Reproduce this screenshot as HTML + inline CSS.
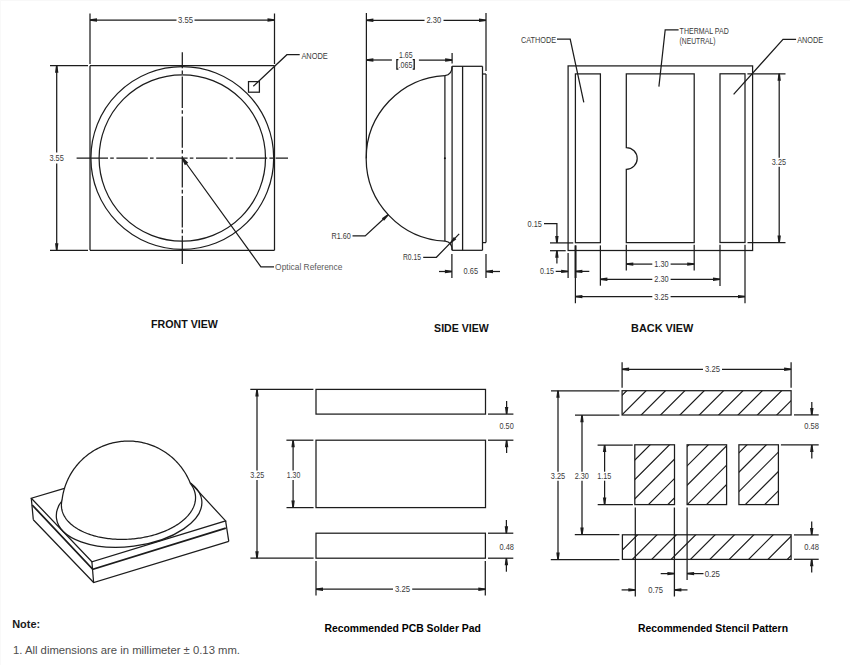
<!DOCTYPE html>
<html><head><meta charset="utf-8"><style>
html,body{margin:0;padding:0;background:#fff;width:850px;height:665px;overflow:hidden}
svg{display:block;font-family:"Liberation Sans",sans-serif}
</style></head><body>
<svg width="850" height="665" viewBox="0 0 850 665">
<rect x="0" y="0" width="850" height="665" fill="#fff"/>
<rect x="0" y="0" width="850" height="1" fill="#f8f8f8"/><rect x="0" y="0" width="1" height="665" fill="#f9f9f9"/>
<line x1="90" y1="65.7" x2="274.5" y2="65.7" stroke="#1c1c1c" stroke-width="1.25"/>
<line x1="90" y1="250.3" x2="274.5" y2="250.3" stroke="#1c1c1c" stroke-width="1.25"/>
<line x1="90" y1="65.7" x2="90" y2="250.3" stroke="#1c1c1c" stroke-width="1.25"/>
<line x1="274.5" y1="65.7" x2="274.5" y2="250.3" stroke="#1c1c1c" stroke-width="1.25"/>
<line x1="90" y1="13.5" x2="90" y2="64" stroke="#1c1c1c" stroke-width="1.25"/>
<line x1="274.5" y1="13.5" x2="274.5" y2="64" stroke="#1c1c1c" stroke-width="1.25"/>
<line x1="90" y1="20" x2="176.5" y2="20" stroke="#1c1c1c" stroke-width="1.25"/>
<line x1="194.5" y1="20" x2="274.5" y2="20" stroke="#1c1c1c" stroke-width="1.25"/>
<path d="M90,19.25 L97,18.3 L97,21.7 L90,20.75 Z" fill="#1c1c1c" stroke="none"/>
<path d="M274.5,20.75 L267.5,21.7 L267.5,18.3 L274.5,19.25 Z" fill="#1c1c1c" stroke="none"/>
<text x="178" y="22.95" font-family="Liberation Sans" font-size="8.2" font-weight="normal" fill="#3a3a3a" textLength="15" lengthAdjust="spacingAndGlyphs">3.55</text>
<line x1="50" y1="65.7" x2="88" y2="65.7" stroke="#1c1c1c" stroke-width="1.25"/>
<line x1="50" y1="250.3" x2="88" y2="250.3" stroke="#1c1c1c" stroke-width="1.25"/>
<line x1="56.7" y1="65.7" x2="56.7" y2="152.5" stroke="#1c1c1c" stroke-width="1.25"/>
<line x1="56.7" y1="163.5" x2="56.7" y2="250.3" stroke="#1c1c1c" stroke-width="1.25"/>
<path d="M57.45,65.7 L58.4,72.7 L55,72.7 L55.95,65.7 Z" fill="#1c1c1c" stroke="none"/>
<path d="M55.95,250.3 L55,243.3 L58.4,243.3 L57.45,250.3 Z" fill="#1c1c1c" stroke="none"/>
<text x="49.4" y="161.25" font-family="Liberation Sans" font-size="8.2" font-weight="normal" fill="#3a3a3a" textLength="14.4" lengthAdjust="spacingAndGlyphs">3.55</text>
<circle cx="182.3" cy="158" r="91.4" fill="none" stroke="#1c1c1c" stroke-width="1.25"/>
<circle cx="182.3" cy="158" r="83.2" fill="none" stroke="#1c1c1c" stroke-width="1.25"/>
<line x1="76.6" y1="158.2" x2="288" y2="158.2" stroke="#1c1c1c" stroke-width="1.25" stroke-dasharray="31.4 2.2 3.6 2.6"/>
<line x1="182.3" y1="52.3" x2="182.3" y2="264" stroke="#1c1c1c" stroke-width="1.25" stroke-dasharray="31.4 2.2 3.6 2.6" stroke-dashoffset="15.5"/>
<rect x="248.5" y="81.6" width="10.9" height="10.6" fill="none" stroke="#1c1c1c" stroke-width="1.25"/>
<path d="M253.3,86.3 L286.9,54.7 L299.7,54.7" fill="none" stroke="#1c1c1c" stroke-width="1.25" stroke-linejoin="miter"/>
<text x="301.4" y="59.3" font-family="Liberation Sans" font-size="8.6" font-weight="normal" fill="#3a3a3a" textLength="26.4" lengthAdjust="spacingAndGlyphs">ANODE</text>
<path d="M182.3,158 L260.9,266.8 L274,266.8" fill="none" stroke="#1c1c1c" stroke-width="1.25" stroke-linejoin="miter"/>
<path d="M182.95,157.53 L188.28,162.68 L184.88,165.14 L181.65,158.47 Z" fill="#1c1c1c" stroke="none"/>
<text x="275.1" y="270.2" font-family="Liberation Sans" font-size="9.3" font-weight="normal" fill="#5a5a5a" textLength="67.3" lengthAdjust="spacingAndGlyphs">Optical Reference</text>
<text x="151.1" y="328" font-family="Liberation Sans" font-size="11.3" font-weight="bold" fill="#111" textLength="66.7" lengthAdjust="spacingAndGlyphs">FRONT VIEW</text>
<line x1="366.4" y1="13" x2="366.4" y2="158.4" stroke="#1c1c1c" stroke-width="1.25"/>
<line x1="486" y1="13" x2="486" y2="71" stroke="#1c1c1c" stroke-width="1.25"/>
<line x1="366.4" y1="20.3" x2="424.5" y2="20.3" stroke="#1c1c1c" stroke-width="1.25"/>
<line x1="443.5" y1="20.3" x2="486" y2="20.3" stroke="#1c1c1c" stroke-width="1.25"/>
<path d="M366.4,19.55 L373.4,18.6 L373.4,22 L366.4,21.05 Z" fill="#1c1c1c" stroke="none"/>
<path d="M486,21.05 L479,22 L479,18.6 L486,19.55 Z" fill="#1c1c1c" stroke="none"/>
<text x="426.4" y="23.25" font-family="Liberation Sans" font-size="8.2" font-weight="normal" fill="#3a3a3a" textLength="14.8" lengthAdjust="spacingAndGlyphs">2.30</text>
<line x1="366.4" y1="60" x2="391.9" y2="60" stroke="#1c1c1c" stroke-width="1.25"/>
<line x1="418.9" y1="60" x2="452.1" y2="60" stroke="#1c1c1c" stroke-width="1.25"/>
<path d="M366.4,59.25 L373.4,58.3 L373.4,61.7 L366.4,60.75 Z" fill="#1c1c1c" stroke="none"/>
<path d="M452.1,60.75 L445.1,61.7 L445.1,58.3 L452.1,59.25 Z" fill="#1c1c1c" stroke="none"/>
<line x1="452.1" y1="53" x2="452.1" y2="63.6" stroke="#1c1c1c" stroke-width="1.25"/>
<text x="399" y="57.8" font-family="Liberation Sans" font-size="8.3" font-weight="normal" fill="#3a3a3a" textLength="13.6" lengthAdjust="spacingAndGlyphs">1.65</text>
<text x="398.6" y="67.6" font-family="Liberation Sans" font-size="8.3" font-weight="normal" fill="#3a3a3a" textLength="13.8" lengthAdjust="spacingAndGlyphs">.065</text>
<path d="M398.4,59.6 H396.9 V69.1 H398.4" fill="none" stroke="#111" stroke-width="1.3" />
<path d="M412.7,59.6 H414.2 V69.1 H412.7" fill="none" stroke="#111" stroke-width="1.3" />
<path d="M444.9,75.6 A82.9,82.9 0 0 0 445.1,241.2" fill="none" stroke="#1c1c1c" stroke-width="1.25" />
<path d="M444.9,75.6 C449.2,75.2 452.1,72 452.1,66.3" fill="none" stroke="#1c1c1c" stroke-width="1.25" />
<path d="M445.1,241.2 C449.2,241.6 452.1,244.6 452.1,250.3" fill="none" stroke="#1c1c1c" stroke-width="1.25" />
<line x1="444.9" y1="75.6" x2="444.9" y2="241.2" stroke="#1c1c1c" stroke-width="1.25"/>
<circle cx="444.9" cy="158.3" r="1" fill="#111"/>
<line x1="452.1" y1="66.3" x2="452.1" y2="250.3" stroke="#1c1c1c" stroke-width="1.25"/>
<line x1="462.6" y1="66.3" x2="462.6" y2="250.3" stroke="#1c1c1c" stroke-width="1.3"/>
<line x1="482.5" y1="66.3" x2="482.5" y2="250.3" stroke="#1c1c1c" stroke-width="1.25"/>
<line x1="452.1" y1="66.3" x2="482.5" y2="66.3" stroke="#1c1c1c" stroke-width="1.25"/>
<line x1="452.1" y1="250.3" x2="482.5" y2="250.3" stroke="#1c1c1c" stroke-width="1.25"/>
<line x1="482.5" y1="74" x2="486" y2="74" stroke="#1c1c1c" stroke-width="1.25"/>
<line x1="482.5" y1="242.6" x2="486" y2="242.6" stroke="#1c1c1c" stroke-width="1.25"/>
<line x1="486" y1="74" x2="486" y2="242.6" stroke="#1c1c1c" stroke-width="1.25"/>
<path d="M352.5,235.9 L365.2,235.9 L388.1,214.7" fill="none" stroke="#1c1c1c" stroke-width="1.25" stroke-linejoin="miter"/>
<path d="M388.61,215.25 L384.05,220.63 L381.88,218.28 L387.59,214.15 Z" fill="#1c1c1c" stroke="none"/>
<text x="331.5" y="238.9" font-family="Liberation Sans" font-size="8.2" font-weight="normal" fill="#3a3a3a" textLength="19.3" lengthAdjust="spacingAndGlyphs">R1.60</text>
<path d="M423.2,257.3 L436.4,257.3 L459.2,233.9" fill="none" stroke="#1c1c1c" stroke-width="1.25" stroke-linejoin="miter"/>
<path d="M450.17,242.38 L453.89,236.94 L456.34,239.31 L451.03,243.22 Z" fill="#1c1c1c" stroke="none"/>
<text x="403" y="260.3" font-family="Liberation Sans" font-size="8.2" font-weight="normal" fill="#3a3a3a" textLength="18" lengthAdjust="spacingAndGlyphs">R0.15</text>
<line x1="451.9" y1="254" x2="451.9" y2="278" stroke="#1c1c1c" stroke-width="1.25"/>
<line x1="486" y1="254" x2="486" y2="278" stroke="#1c1c1c" stroke-width="1.25"/>
<line x1="439" y1="271.5" x2="451.9" y2="271.5" stroke="#1c1c1c" stroke-width="1.25"/>
<line x1="486" y1="271.5" x2="500" y2="271.5" stroke="#1c1c1c" stroke-width="1.25"/>
<path d="M451.9,272.25 L444.9,273.2 L444.9,269.8 L451.9,270.75 Z" fill="#1c1c1c" stroke="none"/>
<path d="M486,270.75 L493,269.8 L493,273.2 L486,272.25 Z" fill="#1c1c1c" stroke="none"/>
<text x="463.6" y="274.45" font-family="Liberation Sans" font-size="8.2" font-weight="normal" fill="#3a3a3a" textLength="14.4" lengthAdjust="spacingAndGlyphs">0.65</text>
<text x="434.1" y="331.8" font-family="Liberation Sans" font-size="11.3" font-weight="bold" fill="#111" textLength="54.6" lengthAdjust="spacingAndGlyphs">SIDE VIEW</text>
<rect x="568.1" y="65.9" width="184.5" height="184.6" fill="none" stroke="#1c1c1c" stroke-width="1.25"/>
<rect x="575.4" y="73.9" width="25" height="168.8" fill="none" stroke="#1c1c1c" stroke-width="1.25"/>
<path d="M626.3,73.8 L694.2,73.8 L694.2,242.5 L626.3,242.5 L626.3,169.3 A10.9,10.9 0 0 0 626.3,147.5 Z" fill="none" stroke="#1c1c1c" stroke-width="1.25" />
<rect x="720" y="73.8" width="25" height="168.7" fill="none" stroke="#1c1c1c" stroke-width="1.25"/>
<path d="M557,39.2 L570.2,39.2 L583.8,102.3" fill="none" stroke="#1c1c1c" stroke-width="1.25" stroke-linejoin="miter"/>
<text x="520.9" y="43.2" font-family="Liberation Sans" font-size="8.6" font-weight="normal" fill="#3a3a3a" textLength="35.2" lengthAdjust="spacingAndGlyphs">CATHODE</text>
<path d="M678.6,29.8 L665.2,29.8 L658.9,86.6" fill="none" stroke="#1c1c1c" stroke-width="1.25" stroke-linejoin="miter"/>
<text x="679.6" y="34.1" font-family="Liberation Sans" font-size="8.6" font-weight="normal" fill="#3a3a3a" textLength="49.2" lengthAdjust="spacingAndGlyphs">THERMAL PAD</text>
<text x="679.6" y="43.5" font-family="Liberation Sans" font-size="8.6" font-weight="normal" fill="#3a3a3a" textLength="36" lengthAdjust="spacingAndGlyphs">(NEUTRAL)</text>
<path d="M796.1,39.4 L783,39.4 L733.6,94.4" fill="none" stroke="#1c1c1c" stroke-width="1.25" stroke-linejoin="miter"/>
<text x="797.2" y="42.8" font-family="Liberation Sans" font-size="8.6" font-weight="normal" fill="#3a3a3a" textLength="26" lengthAdjust="spacingAndGlyphs">ANODE</text>
<line x1="747.4" y1="73.8" x2="785.5" y2="73.8" stroke="#1c1c1c" stroke-width="1.25"/>
<line x1="747.5" y1="242.5" x2="785.5" y2="242.5" stroke="#1c1c1c" stroke-width="1.25"/>
<line x1="779.2" y1="73.8" x2="779.2" y2="157.7" stroke="#1c1c1c" stroke-width="1.25"/>
<line x1="779.2" y1="166.7" x2="779.2" y2="242.5" stroke="#1c1c1c" stroke-width="1.25"/>
<path d="M779.95,73.8 L780.9,80.8 L777.5,80.8 L778.45,73.8 Z" fill="#1c1c1c" stroke="none"/>
<path d="M778.45,242.5 L777.5,235.5 L780.9,235.5 L779.95,242.5 Z" fill="#1c1c1c" stroke="none"/>
<text x="771.8" y="165.05" font-family="Liberation Sans" font-size="8.2" font-weight="normal" fill="#3a3a3a" textLength="14.2" lengthAdjust="spacingAndGlyphs">3.25</text>
<line x1="550" y1="242.9" x2="573.3" y2="242.9" stroke="#1c1c1c" stroke-width="1.25"/>
<line x1="550" y1="250.7" x2="565.7" y2="250.7" stroke="#1c1c1c" stroke-width="1.25"/>
<path d="M544,223.7 L556.9,223.7 L556.9,242.9" fill="none" stroke="#1c1c1c" stroke-width="1.25" stroke-linejoin="miter"/>
<path d="M556.15,242.9 L555.2,235.9 L558.6,235.9 L557.65,242.9 Z" fill="#1c1c1c" stroke="none"/>
<line x1="556.9" y1="250.7" x2="556.9" y2="263.6" stroke="#1c1c1c" stroke-width="1.25"/>
<path d="M557.65,250.7 L558.6,257.7 L555.2,257.7 L556.15,250.7 Z" fill="#1c1c1c" stroke="none"/>
<text x="527.6" y="226.85" font-family="Liberation Sans" font-size="8.2" font-weight="normal" fill="#3a3a3a" textLength="14.3" lengthAdjust="spacingAndGlyphs">0.15</text>
<line x1="568.1" y1="252.9" x2="568.1" y2="277.9" stroke="#1c1c1c" stroke-width="1.25"/>
<line x1="575.4" y1="245.4" x2="575.4" y2="303.3" stroke="#1c1c1c" stroke-width="1.2"/>
<line x1="575.6" y1="245.4" x2="575.6" y2="278" stroke="#1c1c1c" stroke-width="1.9"/>
<line x1="555.7" y1="271.4" x2="568.1" y2="271.4" stroke="#1c1c1c" stroke-width="1.25"/>
<path d="M568.1,272.15 L561.1,273.1 L561.1,269.7 L568.1,270.65 Z" fill="#1c1c1c" stroke="none"/>
<line x1="575.4" y1="271.4" x2="589.3" y2="271.4" stroke="#1c1c1c" stroke-width="1.25"/>
<path d="M575.4,270.65 L582.4,269.7 L582.4,273.1 L575.4,272.15 Z" fill="#1c1c1c" stroke="none"/>
<text x="540" y="274.35" font-family="Liberation Sans" font-size="8.2" font-weight="normal" fill="#3a3a3a" textLength="13.9" lengthAdjust="spacingAndGlyphs">0.15</text>
<line x1="626.3" y1="244.7" x2="626.3" y2="270.4" stroke="#1c1c1c" stroke-width="1.25"/>
<line x1="694.2" y1="244.7" x2="694.2" y2="270.4" stroke="#1c1c1c" stroke-width="1.25"/>
<line x1="626.3" y1="264.1" x2="652.3" y2="264.1" stroke="#1c1c1c" stroke-width="1.25"/>
<line x1="670.6" y1="264.1" x2="694.2" y2="264.1" stroke="#1c1c1c" stroke-width="1.25"/>
<path d="M626.3,263.35 L633.3,262.4 L633.3,265.8 L626.3,264.85 Z" fill="#1c1c1c" stroke="none"/>
<path d="M694.2,264.85 L687.2,265.8 L687.2,262.4 L694.2,263.35 Z" fill="#1c1c1c" stroke="none"/>
<text x="654.3" y="267.05" font-family="Liberation Sans" font-size="8.2" font-weight="normal" fill="#3a3a3a" textLength="14.3" lengthAdjust="spacingAndGlyphs">1.30</text>
<line x1="600.4" y1="245.4" x2="600.4" y2="285.7" stroke="#1c1c1c" stroke-width="1.25"/>
<line x1="720" y1="244.7" x2="720" y2="286" stroke="#1c1c1c" stroke-width="1.25"/>
<line x1="600.4" y1="279.3" x2="652.3" y2="279.3" stroke="#1c1c1c" stroke-width="1.25"/>
<line x1="670.6" y1="279.3" x2="720" y2="279.3" stroke="#1c1c1c" stroke-width="1.25"/>
<path d="M600.4,278.55 L607.4,277.6 L607.4,281 L600.4,280.05 Z" fill="#1c1c1c" stroke="none"/>
<path d="M720,280.05 L713,281 L713,277.6 L720,278.55 Z" fill="#1c1c1c" stroke="none"/>
<text x="654.3" y="282.25" font-family="Liberation Sans" font-size="8.2" font-weight="normal" fill="#3a3a3a" textLength="14.3" lengthAdjust="spacingAndGlyphs">2.30</text>
<line x1="745" y1="244.7" x2="745" y2="303.3" stroke="#1c1c1c" stroke-width="1.25"/>
<line x1="575.4" y1="296.6" x2="652.3" y2="296.6" stroke="#1c1c1c" stroke-width="1.25"/>
<line x1="670.6" y1="296.6" x2="745" y2="296.6" stroke="#1c1c1c" stroke-width="1.25"/>
<path d="M575.4,295.85 L582.4,294.9 L582.4,298.3 L575.4,297.35 Z" fill="#1c1c1c" stroke="none"/>
<path d="M745,297.35 L738,298.3 L738,294.9 L745,295.85 Z" fill="#1c1c1c" stroke="none"/>
<text x="654.3" y="299.55" font-family="Liberation Sans" font-size="8.2" font-weight="normal" fill="#3a3a3a" textLength="14.3" lengthAdjust="spacingAndGlyphs">3.25</text>
<text x="631.1" y="331.9" font-family="Liberation Sans" font-size="11.3" font-weight="bold" fill="#111" textLength="62.3" lengthAdjust="spacingAndGlyphs">BACK VIEW</text>
<path d="M64.4,488.3 L31.3,498.2 L91.9,561.8 L225.6,520.9 L190.8,483.2" fill="none" stroke="#1c1c1c" stroke-width="1.25" stroke-linejoin="miter"/>
<line x1="31.3" y1="498.2" x2="33.3" y2="519.7" stroke="#1c1c1c" stroke-width="1.25"/>
<line x1="91.9" y1="561.8" x2="93.6" y2="582.5" stroke="#1c1c1c" stroke-width="1.25"/>
<line x1="225.6" y1="520.9" x2="228.8" y2="541.3" stroke="#1c1c1c" stroke-width="1.25"/>
<path d="M32.2,505 L92.8,569.3 L225.8,528.1" fill="none" stroke="#1c1c1c" stroke-width="1.75" stroke-linejoin="miter"/>
<path d="M33.3,519.7 L93.6,582.5 L228.8,541.3" fill="none" stroke="#1c1c1c" stroke-width="1.25" stroke-linejoin="miter"/>
<ellipse cx="129.1" cy="509.2" rx="73.2" ry="37.3" transform="rotate(-7.2 129.1 509.2)" fill="none" stroke="#1c1c1c" stroke-width="1.25"/>
<path d="M190.46,483.58 L191.03,484.36 L191.57,485.14 L192.07,485.93 L192.54,486.73 L192.98,487.53 L193.39,488.34 L193.76,489.16 L194.09,489.99 L194.39,490.82 L194.66,491.66 L194.89,492.5 L195.09,493.35 L195.25,494.2 L195.38,495.06 L195.47,495.92 L195.53,496.78 L195.55,497.65 L195.53,498.51 L195.48,499.38 L195.4,500.25 L195.28,501.12 L195.12,501.99 L194.93,502.86 L194.71,503.73 L194.45,504.6 L194.15,505.47 L193.82,506.33 L193.46,507.19 L193.06,508.05 L192.63,508.91 L192.16,509.76 L191.66,510.61 L191.13,511.45 L190.56,512.28 L189.96,513.12 L189.33,513.94 L188.67,514.76 L187.98,515.57 L187.25,516.38 L186.49,517.17 L185.71,517.96 L184.89,518.74 L184.04,519.51 L183.16,520.27 L182.26,521.02 L181.33,521.76 L180.36,522.49 L179.38,523.21 L178.36,523.92 L177.32,524.61 L176.25,525.3 L175.16,525.97 L174.04,526.63 L172.9,527.27 L171.74,527.9 L170.55,528.52 L169.34,529.12 L168.11,529.71 L166.86,530.28 L165.58,530.84 L164.29,531.39 L162.98,531.91 L161.65,532.42 L160.31,532.92 L158.94,533.4 L157.56,533.86 L156.17,534.3 L154.76,534.73 L153.34,535.14 L151.9,535.53 L150.46,535.91 L149,536.26 L147.53,536.6 L146.04,536.92 L144.55,537.22 L143.06,537.5 L141.55,537.76 L140.04,538.01 L138.52,538.23 L137,538.43 L135.47,538.62 L133.93,538.79 L132.4,538.93 L130.86,539.06 L129.32,539.17 L127.78,539.25 L126.25,539.32 L124.71,539.37 L123.17,539.39 L121.64,539.4 L120.11,539.39 L118.59,539.35 L117.07,539.3 L115.55,539.23 L114.05,539.14 L112.55,539.02 L111.06,538.89 L109.58,538.74 L108.11,538.57 L106.64,538.38 L105.2,538.17 L103.76,537.94 L102.33,537.69 L100.92,537.42 L99.53,537.13 L98.15,536.83 L96.78,536.5 L95.44,536.16 L94.11,535.8 L92.79,535.42 L91.5,535.02 L90.23,534.61 L88.97,534.18 L87.74,533.73 L86.53,533.26 L85.34,532.78 L84.17,532.28 L83.03,531.76 L81.91,531.23 L80.81,530.68 L79.74,530.12 L78.7,529.54 L77.68,528.95 L76.69,528.34 L75.73,527.72 L74.79,527.09 L73.88,526.44 L73,525.78 L72.15,525.1 L71.33,524.41 L70.54,523.72 L69.78,523 L69.05,522.28 L68.35,521.55 L67.69,520.81 L67.05,520.05 L66.45,519.29 L65.88,518.52 L65.35,517.73 L64.85,516.94 L64.38,516.14 L63.94,515.34 L63.54,514.52 L63.17,513.7 L62.84,512.88 L62.54,512.04 L62.28,511.21 L62.05,510.36 L61.85,509.51 L61.7,508.66 L61.57,507.8 L61.48,506.94 L61.43,506.08 L61.41,505.22 L61.43,504.35 L61.48,503.48 L61.57,502.61 L61.69,501.74 L61.85,500.87 L62.05,500 L62.23,498.54 L62.45,497.08 L62.7,495.63 L62.99,494.18 L63.3,492.74 L63.65,491.31 L64.03,489.88 L64.44,488.47 L64.89,487.06 L65.36,485.66 L65.86,484.28 L66.4,482.9 L66.96,481.54 L67.56,480.19 L68.18,478.85 L68.84,477.53 L69.52,476.22 L70.23,474.93 L70.97,473.66 L71.74,472.4 L72.54,471.16 L73.36,469.93 L74.21,468.73 L75.09,467.54 L75.99,466.37 L76.92,465.23 L77.87,464.1 L78.85,463 L79.85,461.92 L80.88,460.86 L81.93,459.82 L83,458.8 L84.09,457.82 L85.21,456.85 L86.34,455.91 L87.5,454.99 L88.68,454.11 L89.88,453.24 L91.09,452.41 L92.32,451.6 L93.57,450.82 L94.84,450.06 L96.13,449.34 L97.43,448.64 L98.74,447.97 L100.07,447.33 L101.41,446.72 L102.77,446.14 L104.14,445.6 L105.52,445.08 L106.91,444.59 L108.32,444.13 L109.73,443.71 L111.15,443.31 L112.58,442.95 L114.02,442.62 L115.46,442.32 L116.91,442.05 L118.37,441.81 L119.83,441.61 L121.29,441.44 L122.76,441.3 L124.23,441.19 L125.71,441.12 L127.18,441.08 L128.65,441.07 L130.13,441.1 L131.6,441.15 L133.08,441.24 L134.55,441.36 L136.01,441.52 L137.48,441.71 L138.93,441.92 L140.39,442.18 L141.84,442.46 L143.28,442.78 L144.71,443.12 L146.14,443.5 L147.55,443.91 L148.96,444.35 L150.36,444.83 L151.74,445.33 L153.12,445.86 L154.48,446.43 L155.83,447.02 L157.17,447.65 L158.49,448.3 L159.8,448.98 L161.09,449.69 L162.37,450.43 L163.63,451.2 L164.87,451.99 L166.09,452.82 L167.3,453.67 L168.49,454.54 L169.65,455.44 L170.8,456.37 L171.93,457.32 L173.03,458.3 L174.11,459.3 L175.17,460.33 L176.21,461.38 L177.23,462.45 L178.22,463.54 L179.18,464.66 L180.12,465.79 L181.04,466.95 L181.93,468.12 L182.79,469.32 L183.63,470.54 L184.44,471.77 L185.22,473.02 L185.98,474.29 L186.7,475.57 L187.4,476.87 L188.07,478.18 L188.71,479.51 L189.32,480.86 L189.9,482.21Z" fill="#fff" stroke="#1c1c1c" stroke-width="1.25"/>
<rect x="316" y="389.4" width="169.5" height="24.7" fill="none" stroke="#1c1c1c" stroke-width="1.25"/>
<rect x="316" y="440.2" width="169.5" height="67.4" fill="none" stroke="#1c1c1c" stroke-width="1.25"/>
<rect x="316" y="533.2" width="169.4" height="25" fill="none" stroke="#1c1c1c" stroke-width="1.25"/>
<line x1="250.3" y1="389.4" x2="313.4" y2="389.4" stroke="#1c1c1c" stroke-width="1.25"/>
<line x1="250.4" y1="558.2" x2="313.6" y2="558.2" stroke="#1c1c1c" stroke-width="1.25"/>
<line x1="257" y1="389.4" x2="257" y2="470.5" stroke="#1c1c1c" stroke-width="1.25"/>
<line x1="257" y1="480" x2="257" y2="558.2" stroke="#1c1c1c" stroke-width="1.25"/>
<path d="M257.75,389.4 L258.7,396.4 L255.3,396.4 L256.25,389.4 Z" fill="#1c1c1c" stroke="none"/>
<path d="M256.25,558.2 L255.3,551.2 L258.7,551.2 L257.75,558.2 Z" fill="#1c1c1c" stroke="none"/>
<text x="250.3" y="477.95" font-family="Liberation Sans" font-size="8.2" font-weight="normal" fill="#3a3a3a" textLength="13.9" lengthAdjust="spacingAndGlyphs">3.25</text>
<line x1="286.4" y1="440.2" x2="313.4" y2="440.2" stroke="#1c1c1c" stroke-width="1.25"/>
<line x1="286.5" y1="507.6" x2="313.6" y2="507.6" stroke="#1c1c1c" stroke-width="1.25"/>
<line x1="293.1" y1="440.2" x2="293.1" y2="470.5" stroke="#1c1c1c" stroke-width="1.25"/>
<line x1="293.1" y1="480" x2="293.1" y2="507.6" stroke="#1c1c1c" stroke-width="1.25"/>
<path d="M293.85,440.2 L294.8,447.2 L291.4,447.2 L292.35,440.2 Z" fill="#1c1c1c" stroke="none"/>
<path d="M292.35,507.6 L291.4,500.6 L294.8,500.6 L293.85,507.6 Z" fill="#1c1c1c" stroke="none"/>
<text x="286.8" y="477.95" font-family="Liberation Sans" font-size="8.2" font-weight="normal" fill="#3a3a3a" textLength="13.5" lengthAdjust="spacingAndGlyphs">1.30</text>
<line x1="488" y1="414.1" x2="513.4" y2="414.1" stroke="#1c1c1c" stroke-width="1.25"/>
<line x1="488" y1="440.2" x2="513.4" y2="440.2" stroke="#1c1c1c" stroke-width="1.25"/>
<line x1="506.6" y1="401" x2="506.6" y2="414.1" stroke="#1c1c1c" stroke-width="1.25"/>
<line x1="506.6" y1="440.2" x2="506.6" y2="453" stroke="#1c1c1c" stroke-width="1.25"/>
<path d="M505.85,414.1 L504.9,407.1 L508.3,407.1 L507.35,414.1 Z" fill="#1c1c1c" stroke="none"/>
<path d="M507.35,440.2 L508.3,447.2 L504.9,447.2 L505.85,440.2 Z" fill="#1c1c1c" stroke="none"/>
<text x="499.5" y="428.75" font-family="Liberation Sans" font-size="8.2" font-weight="normal" fill="#3a3a3a" textLength="14.2" lengthAdjust="spacingAndGlyphs">0.50</text>
<line x1="488" y1="533.2" x2="513.3" y2="533.2" stroke="#1c1c1c" stroke-width="1.25"/>
<line x1="488" y1="558.2" x2="513.3" y2="558.2" stroke="#1c1c1c" stroke-width="1.25"/>
<line x1="506.4" y1="520" x2="506.4" y2="533.2" stroke="#1c1c1c" stroke-width="1.25"/>
<line x1="506.4" y1="558.2" x2="506.4" y2="571.7" stroke="#1c1c1c" stroke-width="1.25"/>
<path d="M505.65,533.2 L504.7,526.2 L508.1,526.2 L507.15,533.2 Z" fill="#1c1c1c" stroke="none"/>
<path d="M507.15,558.2 L508.1,565.2 L504.7,565.2 L505.65,558.2 Z" fill="#1c1c1c" stroke="none"/>
<text x="499.5" y="549.65" font-family="Liberation Sans" font-size="8.2" font-weight="normal" fill="#3a3a3a" textLength="14.4" lengthAdjust="spacingAndGlyphs">0.48</text>
<line x1="316" y1="561" x2="316" y2="595.6" stroke="#1c1c1c" stroke-width="1.25"/>
<line x1="485.3" y1="561" x2="485.3" y2="595.6" stroke="#1c1c1c" stroke-width="1.25"/>
<line x1="316" y1="589.2" x2="393" y2="589.2" stroke="#1c1c1c" stroke-width="1.25"/>
<line x1="412.2" y1="589.2" x2="485.3" y2="589.2" stroke="#1c1c1c" stroke-width="1.25"/>
<path d="M316,588.45 L323,587.5 L323,590.9 L316,589.95 Z" fill="#1c1c1c" stroke="none"/>
<path d="M485.3,589.95 L478.3,590.9 L478.3,587.5 L485.3,588.45 Z" fill="#1c1c1c" stroke="none"/>
<text x="395" y="592.15" font-family="Liberation Sans" font-size="8.2" font-weight="normal" fill="#3a3a3a" textLength="15.2" lengthAdjust="spacingAndGlyphs">3.25</text>
<text x="324.4" y="631.9" font-family="Liberation Sans" font-size="10.1" font-weight="bold" fill="#000" textLength="156.5" lengthAdjust="spacingAndGlyphs">Recommended PCB Solder Pad</text>
<defs>
<clipPath id="cp0"><rect x="622.1" y="390.7" width="169" height="24.3"/></clipPath>
<clipPath id="cp1"><rect x="622.4" y="534.8" width="168.7" height="24.6"/></clipPath>
<clipPath id="cp2"><rect x="634.8" y="444.8" width="39.7" height="59.8"/></clipPath>
<clipPath id="cp3"><rect x="687.1" y="444.8" width="39.5" height="59.8"/></clipPath>
<clipPath id="cp4"><rect x="738.9" y="444.8" width="39.5" height="59.8"/></clipPath>
</defs>
<path d="M580.06,418 L610.36,387.7 M599.43,418 L629.73,387.7 M618.8,418 L649.1,387.7 M638.17,418 L668.47,387.7 M657.54,418 L687.84,387.7 M676.91,418 L707.21,387.7 M696.28,418 L726.58,387.7 M715.65,418 L745.95,387.7 M735.02,418 L765.32,387.7 M754.39,418 L784.69,387.7 M773.76,418 L804.06,387.7 M793.13,418 L823.43,387.7" stroke="#1c1c1c" stroke-width="1.2" clip-path="url(#cp0)"/>
<rect x="622.1" y="390.7" width="169" height="24.3" fill="none" stroke="#1c1c1c" stroke-width="1.25"/>
<path d="M571.25,562.4 L601.85,531.8 M590.62,562.4 L621.22,531.8 M609.99,562.4 L640.59,531.8 M629.36,562.4 L659.96,531.8 M648.73,562.4 L679.33,531.8 M668.1,562.4 L698.7,531.8 M687.47,562.4 L718.07,531.8 M706.84,562.4 L737.44,531.8 M726.21,562.4 L756.81,531.8 M745.58,562.4 L776.18,531.8 M764.95,562.4 L795.55,531.8 M784.32,562.4 L814.92,531.8 M803.69,562.4 L834.29,531.8" stroke="#1c1c1c" stroke-width="1.2" clip-path="url(#cp1)"/>
<rect x="622.4" y="534.8" width="168.7" height="24.6" fill="none" stroke="#1c1c1c" stroke-width="1.25"/>
<path d="M548.57,507.6 L614.37,441.8 M567.94,507.6 L633.74,441.8 M587.31,507.6 L653.11,441.8 M606.68,507.6 L672.48,441.8 M626.05,507.6 L691.85,441.8 M645.42,507.6 L711.22,441.8 M664.79,507.6 L730.59,441.8 M684.16,507.6 L749.96,441.8" stroke="#1c1c1c" stroke-width="1.2" clip-path="url(#cp2)"/>
<rect x="634.8" y="444.8" width="39.7" height="59.8" fill="none" stroke="#1c1c1c" stroke-width="1.25"/>
<path d="M587.31,507.6 L653.11,441.8 M606.68,507.6 L672.48,441.8 M626.05,507.6 L691.85,441.8 M645.42,507.6 L711.22,441.8 M664.79,507.6 L730.59,441.8 M684.16,507.6 L749.96,441.8 M703.53,507.6 L769.33,441.8 M722.9,507.6 L788.7,441.8 M742.27,507.6 L808.07,441.8" stroke="#1c1c1c" stroke-width="1.2" clip-path="url(#cp3)"/>
<rect x="687.1" y="444.8" width="39.5" height="59.8" fill="none" stroke="#1c1c1c" stroke-width="1.25"/>
<path d="M645.42,507.6 L711.22,441.8 M664.79,507.6 L730.59,441.8 M684.16,507.6 L749.96,441.8 M703.53,507.6 L769.33,441.8 M722.9,507.6 L788.7,441.8 M742.27,507.6 L808.07,441.8 M761.64,507.6 L827.44,441.8 M781.01,507.6 L846.81,441.8" stroke="#1c1c1c" stroke-width="1.2" clip-path="url(#cp4)"/>
<rect x="738.9" y="444.8" width="39.5" height="59.8" fill="none" stroke="#1c1c1c" stroke-width="1.25"/>
<line x1="622.1" y1="362.2" x2="622.1" y2="387.8" stroke="#1c1c1c" stroke-width="1.25"/>
<line x1="791.1" y1="362.2" x2="791.1" y2="387.8" stroke="#1c1c1c" stroke-width="1.25"/>
<line x1="622.1" y1="369.3" x2="703" y2="369.3" stroke="#1c1c1c" stroke-width="1.25"/>
<line x1="722" y1="369.3" x2="791.1" y2="369.3" stroke="#1c1c1c" stroke-width="1.25"/>
<path d="M622.1,368.55 L629.1,367.6 L629.1,371 L622.1,370.05 Z" fill="#1c1c1c" stroke="none"/>
<path d="M791.1,370.05 L784.1,371 L784.1,367.6 L791.1,368.55 Z" fill="#1c1c1c" stroke="none"/>
<text x="705" y="372.25" font-family="Liberation Sans" font-size="8.2" font-weight="normal" fill="#3a3a3a" textLength="15" lengthAdjust="spacingAndGlyphs">3.25</text>
<line x1="551" y1="390.8" x2="619.4" y2="390.8" stroke="#1c1c1c" stroke-width="1.25"/>
<line x1="550.8" y1="559.6" x2="619.4" y2="559.6" stroke="#1c1c1c" stroke-width="1.25"/>
<line x1="558" y1="390.8" x2="558" y2="471.7" stroke="#1c1c1c" stroke-width="1.25"/>
<line x1="558" y1="480.7" x2="558" y2="559.6" stroke="#1c1c1c" stroke-width="1.25"/>
<path d="M558.75,390.8 L559.7,397.8 L556.3,397.8 L557.25,390.8 Z" fill="#1c1c1c" stroke="none"/>
<path d="M557.25,559.6 L556.3,552.6 L559.7,552.6 L558.75,559.6 Z" fill="#1c1c1c" stroke="none"/>
<text x="550.8" y="479.15" font-family="Liberation Sans" font-size="8.2" font-weight="normal" fill="#3a3a3a" textLength="14.4" lengthAdjust="spacingAndGlyphs">3.25</text>
<line x1="575" y1="415.2" x2="619.4" y2="415.2" stroke="#1c1c1c" stroke-width="1.25"/>
<line x1="574.8" y1="534.5" x2="619.4" y2="534.5" stroke="#1c1c1c" stroke-width="1.25"/>
<line x1="582" y1="415.2" x2="582" y2="471.7" stroke="#1c1c1c" stroke-width="1.25"/>
<line x1="582" y1="480.7" x2="582" y2="534.5" stroke="#1c1c1c" stroke-width="1.25"/>
<path d="M582.75,415.2 L583.7,422.2 L580.3,422.2 L581.25,415.2 Z" fill="#1c1c1c" stroke="none"/>
<path d="M581.25,534.5 L580.3,527.5 L583.7,527.5 L582.75,534.5 Z" fill="#1c1c1c" stroke="none"/>
<text x="574.8" y="479.15" font-family="Liberation Sans" font-size="8.2" font-weight="normal" fill="#3a3a3a" textLength="14.1" lengthAdjust="spacingAndGlyphs">2.30</text>
<line x1="597.6" y1="445" x2="632.7" y2="445" stroke="#1c1c1c" stroke-width="1.25"/>
<line x1="597.7" y1="504.5" x2="632.9" y2="504.5" stroke="#1c1c1c" stroke-width="1.25"/>
<line x1="604.6" y1="445" x2="604.6" y2="471.7" stroke="#1c1c1c" stroke-width="1.25"/>
<line x1="604.6" y1="480.7" x2="604.6" y2="504.5" stroke="#1c1c1c" stroke-width="1.25"/>
<path d="M605.35,445 L606.3,452 L602.9,452 L603.85,445 Z" fill="#1c1c1c" stroke="none"/>
<path d="M603.85,504.5 L602.9,497.5 L606.3,497.5 L605.35,504.5 Z" fill="#1c1c1c" stroke="none"/>
<text x="597.3" y="479.15" font-family="Liberation Sans" font-size="8.2" font-weight="normal" fill="#3a3a3a" textLength="14.1" lengthAdjust="spacingAndGlyphs">1.15</text>
<line x1="794" y1="414.9" x2="818.7" y2="414.9" stroke="#1c1c1c" stroke-width="1.25"/>
<line x1="780.9" y1="444.9" x2="818.7" y2="444.9" stroke="#1c1c1c" stroke-width="1.25"/>
<line x1="811.8" y1="402.1" x2="811.8" y2="414.9" stroke="#1c1c1c" stroke-width="1.25"/>
<line x1="811.8" y1="444.9" x2="811.8" y2="458.4" stroke="#1c1c1c" stroke-width="1.25"/>
<path d="M811.05,414.9 L810.1,407.9 L813.5,407.9 L812.55,414.9 Z" fill="#1c1c1c" stroke="none"/>
<path d="M812.55,444.9 L813.5,451.9 L810.1,451.9 L811.05,444.9 Z" fill="#1c1c1c" stroke="none"/>
<text x="804.2" y="428.75" font-family="Liberation Sans" font-size="8.2" font-weight="normal" fill="#3a3a3a" textLength="14.7" lengthAdjust="spacingAndGlyphs">0.58</text>
<line x1="794" y1="534.9" x2="818.7" y2="534.9" stroke="#1c1c1c" stroke-width="1.25"/>
<line x1="794" y1="559.3" x2="818.7" y2="559.3" stroke="#1c1c1c" stroke-width="1.25"/>
<line x1="811.7" y1="521.4" x2="811.7" y2="534.9" stroke="#1c1c1c" stroke-width="1.25"/>
<line x1="811.7" y1="559.3" x2="811.7" y2="572.5" stroke="#1c1c1c" stroke-width="1.25"/>
<path d="M810.95,534.9 L810,527.9 L813.4,527.9 L812.45,534.9 Z" fill="#1c1c1c" stroke="none"/>
<path d="M812.45,559.3 L813.4,566.3 L810,566.3 L810.95,559.3 Z" fill="#1c1c1c" stroke="none"/>
<text x="804.2" y="550.45" font-family="Liberation Sans" font-size="8.2" font-weight="normal" fill="#3a3a3a" textLength="14.8" lengthAdjust="spacingAndGlyphs">0.48</text>
<line x1="635.3" y1="507.5" x2="635.3" y2="596.5" stroke="#1c1c1c" stroke-width="1.25"/>
<line x1="674.4" y1="507.5" x2="674.4" y2="596.5" stroke="#1c1c1c" stroke-width="1.3"/>
<line x1="687.1" y1="507.5" x2="687.1" y2="580" stroke="#1c1c1c" stroke-width="1.25"/>
<line x1="660.7" y1="573.6" x2="674.4" y2="573.6" stroke="#1c1c1c" stroke-width="1.25"/>
<path d="M674.4,574.35 L667.4,575.3 L667.4,571.9 L674.4,572.85 Z" fill="#1c1c1c" stroke="none"/>
<line x1="687.1" y1="573.6" x2="703.5" y2="573.6" stroke="#1c1c1c" stroke-width="1.25"/>
<path d="M687.1,572.85 L694.1,571.9 L694.1,575.3 L687.1,574.35 Z" fill="#1c1c1c" stroke="none"/>
<text x="704.7" y="576.75" font-family="Liberation Sans" font-size="8.2" font-weight="normal" fill="#3a3a3a" textLength="15.3" lengthAdjust="spacingAndGlyphs">0.25</text>
<line x1="621.6" y1="589.9" x2="635.3" y2="589.9" stroke="#1c1c1c" stroke-width="1.25"/>
<path d="M635.3,590.65 L628.3,591.6 L628.3,588.2 L635.3,589.15 Z" fill="#1c1c1c" stroke="none"/>
<line x1="674.4" y1="589.9" x2="687.5" y2="589.9" stroke="#1c1c1c" stroke-width="1.25"/>
<path d="M674.4,589.15 L681.4,588.2 L681.4,591.6 L674.4,590.65 Z" fill="#1c1c1c" stroke="none"/>
<text x="648.2" y="592.95" font-family="Liberation Sans" font-size="8.2" font-weight="normal" fill="#3a3a3a" textLength="14.8" lengthAdjust="spacingAndGlyphs">0.75</text>
<text x="638" y="632" font-family="Liberation Sans" font-size="10.1" font-weight="bold" fill="#000" textLength="150" lengthAdjust="spacingAndGlyphs">Recommended Stencil Pattern</text>
<text x="12.2" y="628.4" font-family="Liberation Sans" font-size="11" font-weight="bold" fill="#1a1a1a" textLength="27.9" lengthAdjust="spacingAndGlyphs">Note:</text>
<text x="13" y="653.6" font-family="Liberation Sans" font-size="10.9" font-weight="normal" fill="#4d4d4d" textLength="227" lengthAdjust="spacingAndGlyphs">1. All dimensions are in millimeter &#177; 0.13 mm.</text>
</svg>
</body></html>
